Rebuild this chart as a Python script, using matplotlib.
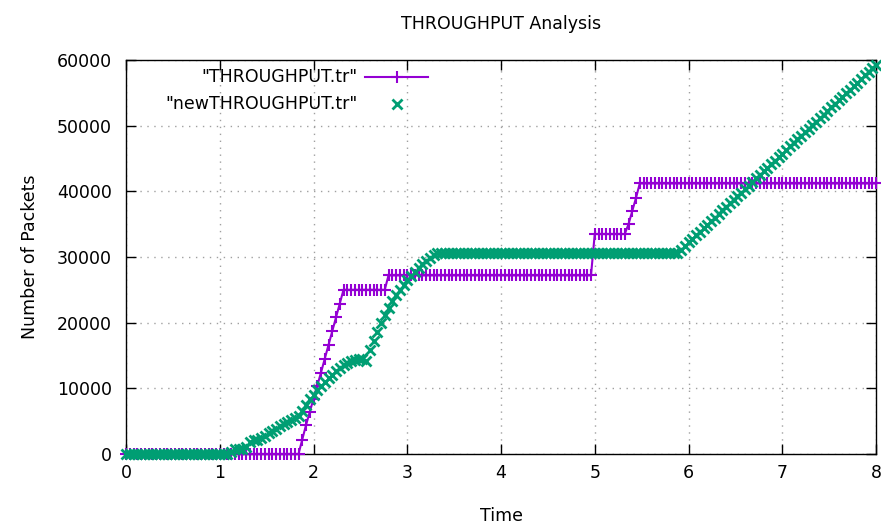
import numpy as np
import matplotlib
matplotlib.use("Agg")
import matplotlib.pyplot as plt

# Sample clock of both trace files (seconds)
time_step = 0.04
time = np.round(np.arange(0, 8.0 + time_step / 2, time_step), 2)

# Cumulative packets, "THROUGHPUT.tr"
throughput = (
    [0] * 47
    + [2200, 4400, 6400, 8400, 10400, 12400, 14500, 16600, 18700, 20800, 22900, 25000]
    + [25000] * 11
    + [27200] * 55
    + [33500] * 9
    + [35000, 37000, 39000]
    + [41200] * 64
)

# Cumulative packets, "newTHROUGHPUT.tr"
new_throughput = (
    [0] * 28
    + [300, 700, 700, 800, 1000, 1800, 2100, 2200, 2500, 2800,
       3200, 3500, 3800, 4200, 4500, 4800, 5200, 5500, 5800, 6500,
       7500, 8300, 9000, 9700, 10400, 11000, 11600, 12100, 12600, 13100,
       13500, 13800, 14100, 14300, 14500, 14400, 14100, 15800, 17200, 18600,
       19900, 21100, 22200, 23300, 24200, 25000, 25800, 26500, 27100, 27700,
       28300, 28900, 29400, 29900, 30300, 30600]
    + [30600] * 64
    + [31140, 31680, 32220, 32760, 33310, 33850, 34390, 34930, 35470, 36010,
       36550, 37090, 37630, 38170, 38720, 39260, 39800, 40340, 40880, 41420,
       41960, 42500, 43040, 43580, 44130, 44670, 45210, 45750, 46290, 46830,
       47370, 47910, 48450, 48990, 49540, 50080, 50620, 51160, 51700, 52240,
       52780, 53320, 53860, 54400, 54950, 55490, 56030, 56570, 57110, 57650,
       58190, 58730, 59270]
)

series_labels = ['"THROUGHPUT.tr"', '"newTHROUGHPUT.tr"']
x_ticks = [0, 1, 2, 3, 4, 5, 6, 7, 8]
y_ticks = [0, 10000, 20000, 30000, 40000, 50000, 60000]

purple = "#9400d3"
green = "#009e73"
fs = 12.5

fig = plt.figure(figsize=(8.81, 5.25), dpi=100)
ax = fig.add_axes([126 / 881, 71 / 525, 750 / 881, 394 / 525])

ax.plot(time, throughput, color=purple, lw=1.5, marker="+", ms=8, mew=1.5,
        clip_on=False, zorder=3)
ax.plot(time, new_throughput, color=green, lw=0, marker="x", ms=6.5, mew=2,
        clip_on=False, zorder=4)

ax.set_xlim(0, 8)
ax.set_ylim(0, 60000)
ax.set_xticks(x_ticks)
ax.set_yticks(y_ticks)
ax.tick_params(direction="in", length=7, width=1, top=True, right=True,
               labelsize=fs, colors="black")
ax.tick_params(axis="y", pad=10)
ax.tick_params(axis="x", pad=7)
ax.grid(True, color="#a0a0a0", lw=1, linestyle=(0, (1, 4)))
ax.set_axisbelow(True)
for s in ax.spines.values():
    s.set_linewidth(1)
    s.set_color("black")

ax.set_title("THROUGHPUT Analysis", fontsize=fs, pad=22)
ax.set_xlabel("Time", fontsize=fs, labelpad=18)
ax.set_ylabel("Number of Packets", fontsize=fs, labelpad=13)

# gnuplot-style key: right-aligned text, sample to its right
key_text_x = 0.309
key_rows = [0.957, 0.888]
ax.text(key_text_x, key_rows[0], series_labels[0], transform=ax.transAxes,
        ha="right", va="center", fontsize=fs)
ax.text(key_text_x, key_rows[1], series_labels[1], transform=ax.transAxes,
        ha="right", va="center", fontsize=fs)
ax.plot([0.3187, 0.4027], [key_rows[0]] * 2, transform=ax.transAxes,
        color=purple, lw=1.5, clip_on=False)
ax.plot([0.3607], [key_rows[0]], transform=ax.transAxes, color=purple,
        marker="+", ms=8, mew=1.5, clip_on=False)
ax.plot([0.3607], [key_rows[1]], transform=ax.transAxes, color=green,
        marker="x", ms=6.5, mew=2, lw=0, clip_on=False)

fig.savefig("out.png", dpi=100)
